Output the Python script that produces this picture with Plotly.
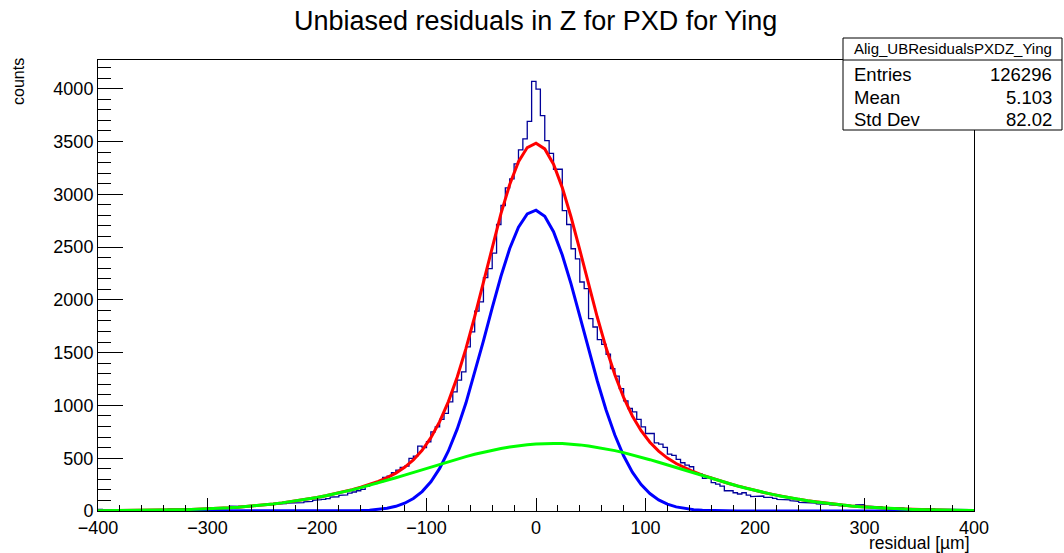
import numpy as np
import plotly.graph_objects as go

# ---------------- data ----------------
x_min = -400.0
bin_width = 4.0
counts = [
    # -400 .. -224
    14, 10, 9, 11, 8, 10, 9, 12, 10, 11, 9, 13, 12, 14, 12, 15, 18, 20, 24, 22,
    25, 20, 18, 22, 25, 30, 32, 31, 34, 33, 45, 50, 44, 42, 46, 45, 50, 56, 58, 62,
    66, 68, 70, 76, 78,
    # -220 .. -108
    79, 80, 86, 90, 100, 107, 110, 118, 132, 135, 148, 152, 170, 180, 192, 205,
    236, 255, 262, 275, 318, 330, 363, 388, 413, 426, 498, 520, 615,
    # -104 .. -4
    600, 656, 750, 797, 867, 924, 1034, 1128, 1239, 1318, 1554, 1696, 1894, 1980,
    2210, 2295, 2443, 2714, 2894, 3061, 3146, 3288, 3420, 3524, 3691, 4069,
    # 0 .. 104
    3997, 3745, 3508, 3388, 3237, 3237, 2846, 2714, 2484, 2389, 2169, 2106, 1822,
    1743, 1623, 1579, 1485, 1349, 1277, 1160, 1043, 971, 939, 867, 797, 734, 734,
    # 108 .. 236
    646, 634, 602, 539, 527, 489, 457, 435, 419, 363, 350, 309, 318, 268, 255, 236,
    192, 192, 173, 161, 173, 151, 136, 142, 142, 129, 129, 120, 110, 110, 105, 98, 92,
    # 240 .. 396
    82, 80, 78, 76, 68, 66, 62, 58, 55, 50, 48, 46, 47, 58, 60, 45, 42, 40, 38, 34,
    32, 31, 30, 27, 25, 24, 26, 22, 21, 23, 20, 18, 19, 16, 17, 14, 15, 13, 12, 11,
]

# fitted gaussian components: amplitude, mean, sigma
narrow_gauss = [2850.0, -1.0, 44.0]
wide_gauss = [640.0, 15.0, 120.0]

title_text = "Unbiased residuals in Z for PXD for Ying"
x_title = "residual [µm]"
y_title = "counts"
stats_name = "Alig_UBResidualsPXDZ_Ying"
stats_labels = ["Entries", "Mean", "Std Dev"]
stats_values = ["126296", "5.103", "82.02"]

x_range = [-400, 400]
y_range = [0, 4272]

# ---------------- build ----------------
counts = np.array(counts, dtype=float)
edges = x_min + bin_width * np.arange(len(counts) + 1)
hx = [edges[0]]
hy = [0.0]
for i, c in enumerate(counts):
    hx += [edges[i], edges[i + 1]]
    hy += [c, c]
hx.append(edges[-1])
hy.append(0.0)

fx = np.linspace(x_range[0], x_range[1], 101)


def gauss(p, x):
    return p[0] * np.exp(-0.5 * ((x - p[1]) / p[2]) ** 2)


f_narrow = gauss(narrow_gauss, fx)
f_wide = gauss(wide_gauss, fx)
f_total = f_narrow + f_wide

fig = go.Figure()
fig.add_trace(go.Scatter(x=hx, y=hy, mode="lines",
                         line=dict(color="#000099", width=1.3), hoverinfo="skip"))
fig.add_trace(go.Scatter(x=fx, y=f_total, mode="lines",
                         line=dict(color="#ff0000", width=3)))
fig.add_trace(go.Scatter(x=fx, y=f_narrow, mode="lines",
                         line=dict(color="#0000ff", width=3)))
fig.add_trace(go.Scatter(x=fx, y=f_wide, mode="lines",
                         line=dict(color="#00ff00", width=3)))

W, H = 1064, 553
L, R, T, B = 98, 974, 60, 511
font = "Liberation Sans, Arial, Helvetica, sans-serif"


def px(xp):
    return (xp - L) / (R - L)


def py(yp):
    return (B - yp) / (B - T)


fig.update_layout(
    width=W, height=H,
    margin=dict(l=L, r=W - R, t=T, b=H - B),
    paper_bgcolor="white", plot_bgcolor="white",
    showlegend=False,
    font=dict(family=font, color="black"),
)
fig.update_xaxes(
    range=x_range, tick0=0, dtick=100, ticks="inside", ticklen=13, tickwidth=1,
    tickcolor="black", showline=True, linecolor="black", linewidth=1, mirror=True,
    showgrid=False, zeroline=False, tickfont=dict(size=18, family=font),
    minor=dict(dtick=20, ticks="inside", ticklen=6, tickcolor="black", showgrid=False),
)
fig.update_yaxes(
    range=y_range, tick0=0, dtick=500, ticks="inside", ticklen=25, tickwidth=1,
    tickcolor="black", showline=True, linecolor="black", linewidth=1, mirror=True,
    showgrid=False, zeroline=False, tickfont=dict(size=18, family=font),
    minor=dict(dtick=100, ticks="inside", ticklen=13, tickcolor="black", showgrid=False),
)

ann = []
ann.append(dict(text=title_text, x=px(535), y=py(21), xref="paper", yref="paper",
                showarrow=False, xanchor="center", yanchor="middle",
                font=dict(size=27, family=font)))
ann.append(dict(text=y_title, x=px(18), y=py(82), xref="paper", yref="paper",
                showarrow=False, textangle=-90, xanchor="center", yanchor="middle",
                font=dict(size=16, family=font)))
ann.append(dict(text=x_title, x=px(972), y=py(543), xref="paper", yref="paper",
                showarrow=False, xanchor="right", yanchor="middle",
                font=dict(size=17.5, family=font)))

# stats box
bx0, bx1, by0, by1, bsep = 843, 1062, 38, 130, 60
shapes = [
    dict(type="rect", xref="paper", yref="paper", x0=px(bx0), x1=px(bx1),
         y0=py(by1), y1=py(by0), line=dict(color="black", width=1), fillcolor="white"),
    dict(type="line", xref="paper", yref="paper", x0=px(bx0), x1=px(bx1),
         y0=py(bsep), y1=py(bsep), line=dict(color="black", width=1)),
]
ann.append(dict(text=stats_name, x=px((bx0 + bx1) / 2), y=py(49), xref="paper",
                yref="paper", showarrow=False, xanchor="center", yanchor="middle",
                font=dict(size=15, family=font)))
row_y = [75, 97, 119]
for lab, val, yy in zip(stats_labels, stats_values, row_y):
    ann.append(dict(text=lab, x=px(852), y=py(yy), xref="paper", yref="paper",
                    showarrow=False, xanchor="left", yanchor="middle",
                    font=dict(size=18.5, family=font)))
    ann.append(dict(text=val, x=px(1054), y=py(yy), xref="paper", yref="paper",
                    showarrow=False, xanchor="right", yanchor="middle",
                    font=dict(size=18.5, family=font)))

fig.update_layout(annotations=ann, shapes=shapes)
fig.write_html("out.html")
